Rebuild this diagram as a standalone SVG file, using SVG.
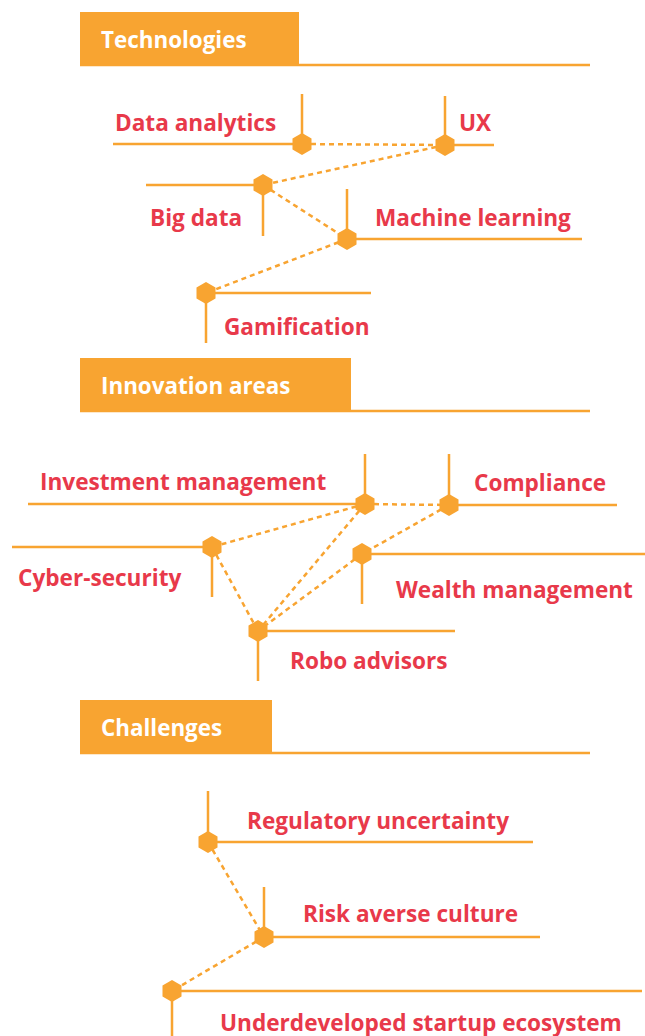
<svg xmlns="http://www.w3.org/2000/svg" width="645" height="1036" viewBox="0 0 645 1036">
<style>
.hdr{fill:#F8A431}
.ln{stroke:#F8A431;stroke-width:2.5;fill:none}
.ds{stroke:#F8A431;stroke-width:2.5;fill:none;stroke-dasharray:5 4}
.ht{font-family:"Open Sans","Liberation Sans",sans-serif;font-weight:bold;font-size:22.4px;fill:#fff}
.lb{font-family:"Open Sans","Liberation Sans",sans-serif;font-weight:bold;font-size:22.6px;fill:#E8394A}
.hex{fill:#F8A431}
</style>
<defs>
<polygon id="hx" points="0,-11 9.5,-5.5 9.5,5.5 0,11 -9.5,5.5 -9.5,-5.5"/>
</defs>
<rect width="645" height="1036" fill="#fff"/>
<g id="connectors">
<line class="ds" x1="302" y1="144" x2="445" y2="145"/>
<line class="ds" x1="445" y1="145" x2="263" y2="185"/>
<line class="ds" x1="263" y1="185" x2="347" y2="239"/>
<line class="ds" x1="347" y1="239" x2="206" y2="293"/>
<line class="ds" x1="365" y1="504" x2="449" y2="505"/>
<line class="ds" x1="365" y1="504" x2="212" y2="547"/>
<line class="ds" x1="365" y1="504" x2="258" y2="631"/>
<line class="ds" x1="449" y1="505" x2="362" y2="554"/>
<line class="ds" x1="212" y1="547" x2="258" y2="631"/>
<line class="ds" x1="362" y1="554" x2="258" y2="631"/>
<line class="ds" x1="208" y1="842" x2="264" y2="937"/>
<line class="ds" x1="264" y1="937" x2="172" y2="991"/>
</g>
<g id="header-technologies">
<rect class="hdr" x="80" y="12" width="219" height="54"/>
<line class="ln" x1="80" y1="65" x2="590" y2="65"/>
<text class="ht" x="101" y="48">Technologies</text>
</g>
<g id="data-analytics">
<path class="ln" d="M113 144H302M302 94V144"/>
<use href="#hx" class="hex" x="302" y="144"/>
<text class="lb" x="115" y="131">Data analytics</text>
</g>
<g id="ux">
<path class="ln" d="M445 145H494M445 96V145"/>
<use href="#hx" class="hex" x="445" y="145"/>
<text class="lb" x="459" y="131">UX</text>
</g>
<g id="big-data">
<path class="ln" d="M146 185H263M263 185V236"/>
<use href="#hx" class="hex" x="263" y="185"/>
<text class="lb" x="150" y="226">Big data</text>
</g>
<g id="machine-learning">
<path class="ln" d="M347 239H582M347 189V239"/>
<use href="#hx" class="hex" x="347" y="239"/>
<text class="lb" x="375" y="226">Machine learning</text>
</g>
<g id="gamification">
<path class="ln" d="M206 293H371M206 293V343"/>
<use href="#hx" class="hex" x="206" y="293"/>
<text class="lb" x="224" y="335">Gamification</text>
</g>
<g id="header-innovation">
<rect class="hdr" x="80" y="358" width="271" height="54"/>
<line class="ln" x1="80" y1="411" x2="590" y2="411"/>
<text class="ht" x="101" y="394">Innovation areas</text>
</g>
<g id="investment-management">
<path class="ln" d="M28 504H365M365 454V504"/>
<use href="#hx" class="hex" x="365" y="504"/>
<text class="lb" x="40" y="490">Investment management</text>
</g>
<g id="compliance">
<path class="ln" d="M449 505H617M449 454V505"/>
<use href="#hx" class="hex" x="449" y="505"/>
<text class="lb" x="474" y="491">Compliance</text>
</g>
<g id="cyber-security">
<path class="ln" d="M12 547H212M212 547V597"/>
<use href="#hx" class="hex" x="212" y="547"/>
<text class="lb" x="18" y="586">Cyber-security</text>
</g>
<g id="wealth-management">
<path class="ln" d="M362 554H645M362 554V604"/>
<use href="#hx" class="hex" x="362" y="554"/>
<text class="lb" x="396" y="598">Wealth management</text>
</g>
<g id="robo-advisors">
<path class="ln" d="M258 631H455M258 631V681"/>
<use href="#hx" class="hex" x="258" y="631"/>
<text class="lb" x="290" y="669">Robo advisors</text>
</g>
<g id="header-challenges">
<rect class="hdr" x="80" y="700" width="192" height="54"/>
<line class="ln" x1="80" y1="753" x2="590" y2="753"/>
<text class="ht" x="101" y="736">Challenges</text>
</g>
<g id="regulatory-uncertainty">
<path class="ln" d="M208 842H533M208 791V842"/>
<use href="#hx" class="hex" x="208" y="842"/>
<text class="lb" x="247" y="829">Regulatory uncertainty</text>
</g>
<g id="risk-averse-culture">
<path class="ln" d="M264 937H540M264 887V937"/>
<use href="#hx" class="hex" x="264" y="937"/>
<text class="lb" x="303" y="922">Risk averse culture</text>
</g>
<g id="underdeveloped-startup-ecosystem">
<path class="ln" d="M172 991H642M172 991V1036"/>
<use href="#hx" class="hex" x="172" y="991"/>
<text class="lb" x="220" y="1031">Underdeveloped startup ecosystem</text>
</g>
</svg>
